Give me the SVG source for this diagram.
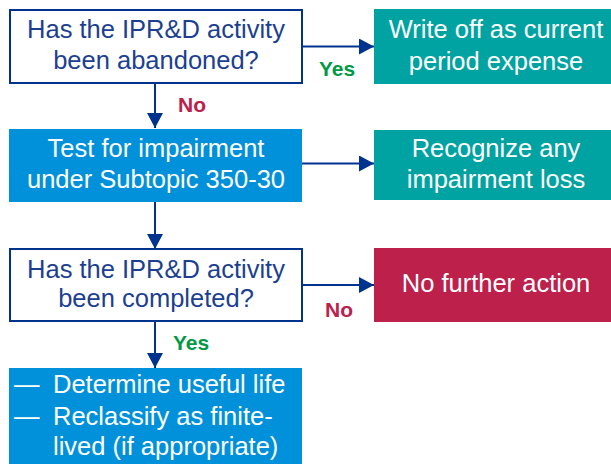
<svg xmlns="http://www.w3.org/2000/svg" width="611" height="464" viewBox="0 0 611 464">
<style>
.t{font-family:"Liberation Sans",Arial,sans-serif;font-size:25.5px;text-anchor:middle}
.dk{fill:#1D3F91}
.wt{fill:#FFFFFF}
.lb{font-family:"Liberation Sans",Arial,sans-serif;font-size:21px;font-weight:bold}
.yes{fill:#009A44}
.no{fill:#BC204B}
.q{fill:#FFFFFF;stroke:#00338D;stroke-width:2}
.c{stroke:#00338D;stroke-width:2;fill:none}
</style>
<defs>
<marker id="ah" markerUnits="userSpaceOnUse" markerWidth="15" markerHeight="16" refX="15" refY="8" orient="auto">
<path d="M0,0 L15,8 L0,16 z" fill="#00338D"/>
</marker>
</defs>
<rect width="611" height="464" fill="#FFFFFF"/>
<g id="connectors">
<line class="c" x1="302" y1="46.5" x2="374" y2="46.5" marker-end="url(#ah)"/>
<line class="c" x1="155" y1="83" x2="155" y2="128" marker-end="url(#ah)"/>
<line class="c" x1="302" y1="163.5" x2="374" y2="163.5" marker-end="url(#ah)"/>
<line class="c" x1="155" y1="202" x2="155" y2="249" marker-end="url(#ah)"/>
<line class="c" x1="302" y1="285" x2="374" y2="285" marker-end="url(#ah)"/>
<line class="c" x1="155" y1="321" x2="155" y2="368" marker-end="url(#ah)"/>
<text class="lb yes" x="319" y="76">Yes</text>
<text class="lb no" x="178" y="112">No</text>
<text class="lb no" x="325" y="317">No</text>
<text class="lb yes" x="173" y="350">Yes</text>
</g>
<g id="q1">
<rect class="q" x="10" y="10" width="292" height="73"/>
<text class="t dk" x="156" y="38">Has the IPR&amp;D activity</text>
<text class="t dk" x="156" y="69">been abandoned?</text>
</g>
<g id="writeoff">
<rect x="374" y="9" width="237" height="75" fill="#00A3A1"/>
<text class="t wt" x="496" y="38">Write off as current</text>
<text class="t wt" x="496" y="70">period expense</text>
</g>
<g id="test">
<rect x="9" y="129" width="293" height="73" fill="#0091DA"/>
<text class="t wt" x="156" y="157">Test for impairment</text>
<text class="t wt" x="156" y="188">under Subtopic 350-30</text>
</g>
<g id="recognize">
<rect x="374" y="130" width="237" height="70" fill="#00A3A1"/>
<text class="t wt" x="496" y="157">Recognize any</text>
<text class="t wt" x="496" y="188">impairment loss</text>
</g>
<g id="q2">
<rect class="q" x="10" y="249" width="292" height="72"/>
<text class="t dk" x="156" y="278">Has the IPR&amp;D activity</text>
<text class="t dk" x="156" y="307">been completed?</text>
</g>
<g id="nofurther">
<rect x="374" y="248" width="237" height="74" fill="#BC204B"/>
<text class="t wt" x="496" y="292">No further action</text>
</g>
<g id="determine">
<rect x="9" y="368" width="293" height="96" fill="#0091DA"/>
<text class="t wt" style="text-anchor:start" x="14" y="393">—</text>
<text class="t wt" style="text-anchor:start" x="53" y="393">Determine useful life</text>
<text class="t wt" style="text-anchor:start" x="14" y="425">—</text>
<text class="t wt" style="text-anchor:start" x="53" y="425">Reclassify as finite-</text>
<text class="t wt" style="text-anchor:start" x="53" y="455">lived (if appropriate)</text>
</g>
</svg>
